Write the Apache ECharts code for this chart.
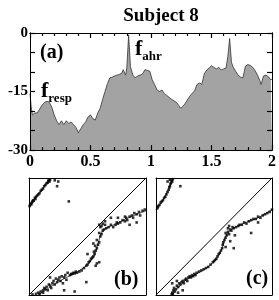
<!DOCTYPE html>
<html>
<head>
<meta charset="utf-8">
<script src="https://cdn.jsdelivr.net/npm/echarts@6/dist/echarts.min.js"></script>
<style>
  html, body { margin: 0; padding: 0; background: #fff; }
  #chart { width: 279px; height: 300px; }
</style>
</head>
<body>
<div id="chart"></div>
<script>
// spectrum (a): frequency and power in dB
var specF = [0, 0.01, 0.02, 0.04, 0.06, 0.08, 0.10, 0.12, 0.14, 0.16, 0.18, 0.20, 0.22, 0.24, 0.26, 0.28, 0.30,
  0.32, 0.34, 0.36, 0.38, 0.40, 0.42, 0.44, 0.46, 0.48, 0.50, 0.52, 0.54, 0.56, 0.58, 0.60, 0.62, 0.64, 0.66,
  0.68, 0.70, 0.72, 0.74, 0.76, 0.77, 0.79, 0.80, 0.815, 0.83, 0.85, 0.87, 0.89, 0.91, 0.93, 0.95, 0.97, 0.99,
  1.01, 1.03, 1.05, 1.07, 1.09, 1.11, 1.13, 1.15, 1.17, 1.19, 1.21, 1.23, 1.245, 1.26, 1.28, 1.30, 1.32, 1.34,
  1.36, 1.38, 1.40, 1.42, 1.44, 1.46, 1.48, 1.50, 1.52, 1.54, 1.56, 1.58, 1.60, 1.62, 1.635, 1.65, 1.665, 1.68,
  1.70, 1.72, 1.74, 1.76, 1.78, 1.80, 1.82, 1.84, 1.86, 1.88, 1.90, 1.91, 1.93, 1.95, 1.97, 1.99, 2.00];
var specV = [-15.5, -19, -21, -20.5, -20.5, -19.5, -18.5, -17.8, -17.5, -17.8, -19, -21, -22.5, -23.5, -22.5, -23.5, -22.5,
  -23.2, -22.8, -23.5, -24.2, -25.6, -24.5, -23.5, -22.8, -21.5, -21, -22, -22.3, -20.5, -19.3, -17, -15, -13, -11.5,
  -11.3, -11, -10.8, -10.6, -10.3, -9.4, -10.8, -9, -0.5, -8.6, -10.8, -11.5, -11, -10.8, -10.5, -9.4, -9.6, -9.8,
  -12, -13.2, -14.6, -15, -14.6, -15.5, -16, -16.5, -17, -17.4, -17.8, -18.6, -19.3, -18.8, -18.2, -17.2, -16.2, -15.5,
  -14.8, -13.2, -12.8, -13.2, -10.5, -9.5, -9, -8.4, -8.8, -9.2, -8.8, -9.5, -9.2, -9, -6, -1.4, -7.5, -8.8,
  -9.8, -10.8, -11.3, -11.5, -8.5, -8.1, -8.3, -8.8, -9.6, -10.8, -12.2, -13.2, -11, -10.8, -11.2, -12, -11.8];
var xTicks = [0, 0.5, 1, 1.5, 2];
var yTicks = [-30, -15, 0];

// return map (b)
var bPoints = [
  [0.005, 0.76], [0.01, 0.77], [0.015, 0.78], [0.02, 0.775], [0.025, 0.79], [0.03, 0.8], [0.035, 0.81], [0.04, 0.805],
  [0.05, 0.83], [0.055, 0.82], [0.06, 0.84], [0.07, 0.85], [0.08, 0.86], [0.09, 0.87], [0.1, 0.89], [0.11, 0.9],
  [0.12, 0.91], [0.13, 0.93], [0.14, 0.94], [0.15, 0.955], [0.16, 0.96], [0.165, 0.975], [0.17, 0.98], [0.175, 0.97],
  [0.18, 0.985], [0.22, 0.98], [0.25, 0.97], [0.24, 0.93], [0.34, 0.8],
  [0.03, 0.005], [0.06, 0.01], [0.08, 0.02], [0.09, 0.01], [0.1, 0.03], [0.12, 0.04], [0.13, 0.06], [0.14, 0.05],
  [0.15, 0.07], [0.16, 0.04], [0.17, 0.09], [0.18, 0.08], [0.19, 0.06], [0.2, 0.1], [0.21, 0.12], [0.22, 0.09],
  [0.23, 0.14], [0.24, 0.11], [0.25, 0.13], [0.26, 0.15], [0.27, 0.12], [0.28, 0.16], [0.29, 0.1], [0.3, 0.15],
  [0.31, 0.17], [0.32, 0.13], [0.33, 0.19], [0.35, 0.17], [0.36, 0.18], [0.37, 0.18], [0.38, 0.19], [0.39, 0.185],
  [0.4, 0.2], [0.41, 0.19], [0.43, 0.2], [0.45, 0.21], [0.47, 0.23], [0.49, 0.25], [0.5, 0.26], [0.51, 0.28],
  [0.52, 0.29], [0.53, 0.31], [0.54, 0.32], [0.55, 0.33], [0.56, 0.35], [0.555, 0.37], [0.57, 0.38], [0.58, 0.4],
  [0.565, 0.42], [0.59, 0.43], [0.6, 0.45], [0.58, 0.47], [0.61, 0.5], [0.62, 0.52], [0.6, 0.53], [0.63, 0.55],
  [0.64, 0.56], [0.61, 0.58], [0.62, 0.59], [0.6, 0.6], [0.63, 0.61], [0.65, 0.6], [0.66, 0.57], [0.68, 0.58],
  [0.7, 0.6], [0.72, 0.58], [0.74, 0.6], [0.75, 0.62], [0.76, 0.61], [0.78, 0.62], [0.8, 0.64], [0.82, 0.63],
  [0.83, 0.66], [0.84, 0.64], [0.86, 0.67], [0.88, 0.68], [0.89, 0.66], [0.9, 0.7], [0.92, 0.69], [0.94, 0.71],
  [0.95, 0.68], [0.97, 0.72], [0.99, 0.73], [0.55, 0.44], [0.5, 0.35], [0.7, 0.66], [0.76, 0.66], [0.86, 0.6],
  [0.92, 0.62], [0.49, 0.11], [0.39, 0.03], [0.3, 0.04], [0.58, 0.27], [0.57, 0.25], [0.6, 0.28], [0.18, 0.15],
  [0.12, 0.02], [0.65, 0.63], [0.82, 0.67]
];
var bCurve = [[0.08, 0], [0.2, 0.08], [0.3, 0.14], [0.4, 0.19], [0.5, 0.26], [0.56, 0.34], [0.59, 0.44],
  [0.62, 0.53], [0.66, 0.57], [0.75, 0.61], [0.85, 0.66], [1, 0.72]];
var bCurveTop = [[0, 0.76], [0.08, 0.86], [0.18, 0.99]];

// return map (c)
var cPoints = [
  [0.01, 0.74], [0.015, 0.75], [0.02, 0.76], [0.03, 0.77], [0.04, 0.79], [0.05, 0.8], [0.06, 0.81], [0.07, 0.83],
  [0.08, 0.84], [0.09, 0.86], [0.1, 0.88], [0.11, 0.9], [0.115, 0.92], [0.12, 0.93], [0.125, 0.95], [0.13, 0.96],
  [0.135, 0.98], [0.14, 0.97], [0.145, 0.99], [0.1, 0.97], [0.12, 0.985], [0.21, 0.93],
  [0.135, 0.005], [0.14, 0.02], [0.145, 0.01], [0.15, 0.04], [0.155, 0.06], [0.16, 0.03], [0.17, 0.05], [0.18, 0.08],
  [0.19, 0.07], [0.2, 0.1], [0.21, 0.09], [0.22, 0.11], [0.23, 0.12], [0.24, 0.1], [0.25, 0.13], [0.26, 0.14],
  [0.27, 0.12], [0.28, 0.15], [0.29, 0.16], [0.3, 0.15], [0.31, 0.17], [0.32, 0.16], [0.33, 0.18], [0.34, 0.17],
  [0.35, 0.19], [0.37, 0.2], [0.39, 0.21], [0.41, 0.22], [0.43, 0.23], [0.45, 0.24], [0.47, 0.26], [0.49, 0.28],
  [0.5, 0.29], [0.51, 0.3], [0.52, 0.31], [0.53, 0.33], [0.54, 0.35], [0.55, 0.36], [0.56, 0.38], [0.57, 0.4],
  [0.575, 0.43], [0.58, 0.45], [0.59, 0.47], [0.6, 0.49], [0.61, 0.51], [0.6, 0.53], [0.62, 0.54], [0.63, 0.52],
  [0.64, 0.56], [0.65, 0.55], [0.62, 0.57], [0.63, 0.59], [0.66, 0.58], [0.67, 0.57], [0.69, 0.58], [0.71, 0.59],
  [0.72, 0.6], [0.74, 0.6], [0.76, 0.62], [0.78, 0.61], [0.8, 0.63], [0.82, 0.64], [0.84, 0.65], [0.86, 0.65],
  [0.88, 0.67], [0.9, 0.66], [0.92, 0.68], [0.94, 0.69], [0.96, 0.7], [0.98, 0.71], [1.0, 0.73], [0.6, 0.41],
  [0.64, 0.46], [0.68, 0.51], [0.67, 0.4], [0.82, 0.53], [0.88, 0.62], [0.19, 0.02], [0.23, 0.04], [0.14, 0.1],
  [0.18, 0.12]
];
var cCurve = [[0.14, 0], [0.25, 0.12], [0.35, 0.18], [0.45, 0.24], [0.52, 0.31], [0.57, 0.4], [0.6, 0.5],
  [0.65, 0.56], [0.75, 0.61], [0.88, 0.66], [1, 0.73]];
var cCurveTop = [[0, 0.73], [0.07, 0.83], [0.145, 0.99]];
var diag = [[0, 0], [1, 1]];

var serif = "'Liberation Serif', 'DejaVu Serif', serif";
var chart = echarts.init(document.getElementById('chart'), null, { renderer: 'canvas' });

var specData = specF.map(function (f, i) { return [f, specV[i]]; });

function frameAxis(gridIndex, pos, min, max) {
  return {
    gridIndex: gridIndex, type: 'value', position: pos, min: min, max: max,
    axisLine: { show: true, onZero: false, lineStyle: { color: '#000', width: 1 } },
    axisTick: { show: false }, axisLabel: { show: false }, splitLine: { show: false }
  };
}

// tick-only axes, drawn in an overlay grid on top of panel (a)
function tickAxis(gridIndex, pos, min, max, interval, split, majorLen, minorLen) {
  return {
    gridIndex: gridIndex, type: 'value', position: pos, min: min, max: max, interval: interval, z: 10,
    axisLine: { show: true, onZero: false, lineStyle: { color: '#000', width: 1 } },
    axisTick: { show: true, inside: true, length: majorLen, lineStyle: { color: '#000', width: 1.2 } },
    minorTick: { show: true, splitNumber: split, length: minorLen, lineStyle: { color: '#000', width: 1.2 } },
    axisLabel: { show: false }, splitLine: { show: false }
  };
}
function hiddenAxis(gridIndex, min, max) {
  return { gridIndex: gridIndex, type: 'value', min: min, max: max, show: false };
}

var option = {
  animation: false,
  backgroundColor: '#fff',
  title: {
    text: 'Subject 8', left: 156, top: 2, textAlign: 'center',
    textStyle: { fontFamily: serif, fontWeight: 'bold', fontSize: 19, color: '#000' }
  },
  grid: [
    { left: 30, top: 33, width: 242, height: 117 },
    { left: 29, top: 178, width: 117, height: 117 },
    { left: 156, top: 178, width: 116, height: 117 },
    { left: 30, top: 33, width: 242, height: 117 },
    { left: 30, top: 33, width: 242, height: 117 }
  ],
  xAxis: [
    {
      gridIndex: 0, type: 'value', position: 'bottom', min: xTicks[0], max: xTicks[xTicks.length - 1], interval: 0.5,
      axisLine: { show: true, onZero: false, lineStyle: { color: '#000', width: 1 } },
      axisTick: { show: false },
      axisLabel: {
        margin: 4, color: '#000', fontFamily: serif, fontWeight: 'bold', fontSize: 16,
        formatter: function (v) { return String(v); }
      },
      splitLine: { show: false }
    },
    frameAxis(0, 'top', 0, 2),
    frameAxis(1, 'bottom', 0, 1), frameAxis(1, 'top', 0, 1),
    frameAxis(2, 'bottom', 0, 1), frameAxis(2, 'top', 0, 1),
    tickAxis(3, 'bottom', 0, 2, 0.5, 5, 5, 3), tickAxis(3, 'top', 0, 2, 0.5, 5, 5, 3),
    hiddenAxis(4, 0, 2)
  ],
  yAxis: [
    {
      gridIndex: 0, type: 'value', position: 'left', min: yTicks[0], max: yTicks[yTicks.length - 1], interval: 15,
      axisLine: { show: true, onZero: false, lineStyle: { color: '#000', width: 1 } },
      axisTick: { show: false },
      axisLabel: { margin: 2, color: '#000', fontFamily: serif, fontWeight: 'bold', fontSize: 15 },
      splitLine: { show: false }
    },
    frameAxis(0, 'right', -30, 0),
    frameAxis(1, 'left', 0, 1), frameAxis(1, 'right', 0, 1),
    frameAxis(2, 'left', 0, 1), frameAxis(2, 'right', 0, 1),
    hiddenAxis(3, -30, 0),
    tickAxis(4, 'left', -30, 0, 15, 3, 5, 5), tickAxis(4, 'right', -30, 0, 15, 3, 5, 5)
  ],
  series: [
    {
      type: 'line', xAxisIndex: 0, yAxisIndex: 0, data: specData, symbol: 'none',
      lineStyle: { color: '#333', width: 0.8 },
      areaStyle: { color: '#a3a3a3', opacity: 1, origin: 'start' }, z: 1
    },
    // (b)
    { type: 'line', xAxisIndex: 2, yAxisIndex: 2, data: diag, symbol: 'none', lineStyle: { color: '#000', width: 1 } },
    { type: 'line', xAxisIndex: 2, yAxisIndex: 2, data: bCurve, symbol: 'none', smooth: 0.3, lineStyle: { color: '#000', width: 0.7 } },
    { type: 'line', xAxisIndex: 2, yAxisIndex: 2, data: bCurveTop, symbol: 'none', smooth: 0.3, lineStyle: { color: '#000', width: 0.7 } },
    { type: 'scatter', xAxisIndex: 2, yAxisIndex: 2, data: bPoints, symbol: 'rect', symbolSize: 2.6, itemStyle: { color: '#000' } },
    // (c)
    { type: 'line', xAxisIndex: 4, yAxisIndex: 4, data: diag, symbol: 'none', lineStyle: { color: '#000', width: 1 } },
    { type: 'line', xAxisIndex: 4, yAxisIndex: 4, data: cCurve, symbol: 'none', smooth: 0.3, lineStyle: { color: '#000', width: 0.7 } },
    { type: 'line', xAxisIndex: 4, yAxisIndex: 4, data: cCurveTop, symbol: 'none', smooth: 0.3, lineStyle: { color: '#000', width: 0.7 } },
    { type: 'scatter', xAxisIndex: 4, yAxisIndex: 4, data: cPoints, symbol: 'rect', symbolSize: 2.6, itemStyle: { color: '#000' } }
  ],
  graphic: [
    { type: 'text', left: 40, top: 43, z: 10, style: { text: '(a)', font: 'bold 20px ' + serif, fill: '#000' } },
    {
      type: 'text', left: 135, top: 38, z: 10,
      style: {
        text: '{f|f}{s|ahr}', fill: '#000',
        rich: {
          f: { font: 'bold 22px ' + serif, verticalAlign: 'bottom', lineHeight: 22 },
          s: { font: 'bold 13px ' + serif, verticalAlign: 'bottom', lineHeight: 22, padding: [0, 0, -3, 0] }
        }
      }
    },
    {
      type: 'text', left: 41, top: 80, z: 10,
      style: {
        text: '{f|f}{s|resp}', fill: '#000',
        rich: {
          f: { font: 'bold 22px ' + serif, verticalAlign: 'bottom', lineHeight: 22 },
          s: { font: 'bold 13px ' + serif, verticalAlign: 'bottom', lineHeight: 22, padding: [0, 0, -3, 0] }
        }
      }
    },
    { type: 'text', left: 114, top: 270, z: 10, style: { text: '(b)', font: 'bold 20px ' + serif, fill: '#000' } },
    { type: 'text', left: 246, top: 269, z: 10, style: { text: '(c)', font: 'bold 20px ' + serif, fill: '#000' } }
  ]
};

chart.setOption(option);
</script>
</body>
</html>
